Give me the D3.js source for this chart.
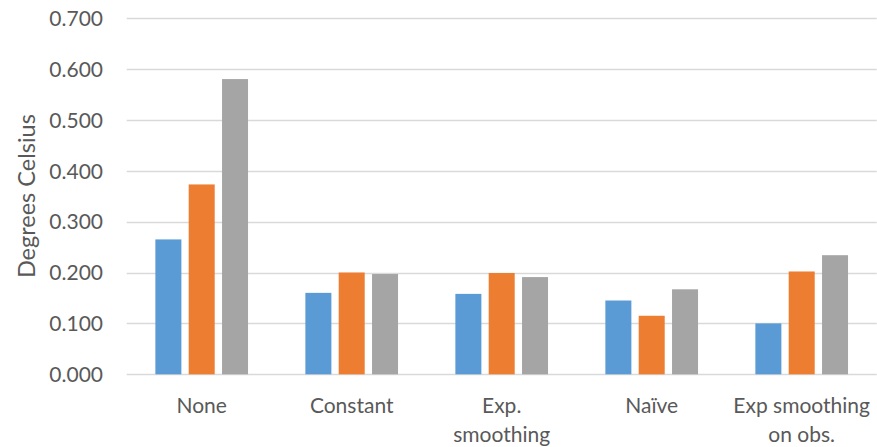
<!DOCTYPE html>
<html>
<head>
<meta charset="utf-8">
<script src="https://cdn.jsdelivr.net/npm/d3@7"></script>
<style>
  html, body { margin: 0; padding: 0; background: #fff; }
  svg text { font-family: Lato, "Noto Sans", sans-serif; fill: #595959; }
</style>
</head>
<body>
<svg id="chart" width="877" height="447"></svg>
<script>
// Error in degrees Celsius by correction method, three series per method
const categories = ["None", "Constant", "Exp. smoothing", "Naïve", "Exp smoothing on obs."];
const categoryLines = [["None"], ["Constant"], ["Exp.", "smoothing"], ["Naïve"], ["Exp smoothing", "on obs."]];
const seriesNames = ["Series 1", "Series 2", "Series 3"];
const series1 = [0.265, 0.160, 0.158, 0.145, 0.100];
const series2 = [0.373, 0.200, 0.199, 0.115, 0.202];
const series3 = [0.580, 0.197, 0.191, 0.167, 0.234];
const seriesColors = ["#5B9BD5", "#ED7D31", "#A5A5A5"];
const yTicks = [0, 0.1, 0.2, 0.3, 0.4, 0.5, 0.6, 0.7];
const yTitle = "Degrees Celsius";

const svg = d3.select("#chart");
const plot = { left: 126.7, right: 876.7, top: 18, bottom: 374.3 };

const x0 = d3.scaleBand().domain(categories).range([plot.left, plot.right]).padding(0);
const x1 = d3.scaleBand().domain(seriesNames).range([0, x0.bandwidth()])
  .paddingInner(0.22).paddingOuter(0.86);
const y = d3.scaleLinear().domain([0, 0.7]).range([plot.bottom, plot.top]);

// Horizontal gridlines
svg.append("g").selectAll("line").data(yTicks).join("line")
  .attr("x1", plot.left).attr("x2", plot.right)
  .attr("y1", d => Math.round(y(d)) + 0.5).attr("y2", d => Math.round(y(d)) + 0.5)
  .attr("stroke", "#D9D9D9").attr("stroke-width", 1.3);

// Y axis labels
const yAxis = d3.axisLeft(y).tickValues(yTicks).tickFormat(d3.format(".3f")).tickSize(0).tickPadding(0);
const yg = svg.append("g").attr("transform", `translate(103,0)`).call(yAxis);
yg.select(".domain").remove();
yg.selectAll("text").attr("font-size", 21).attr("dy", "0.35em").style("font-family", null);

// Y axis title
svg.append("text")
  .attr("transform", `translate(35,${(plot.top + plot.bottom) / 2}) rotate(-90)`)
  .attr("text-anchor", "middle")
  .attr("font-size", 23.5)
  .text(yTitle);

// Bars
const rows = categories.map((c, i) => ({
  cat: c,
  vals: [series1[i], series2[i], series3[i]]
}));
const groups = svg.append("g").selectAll("g").data(rows).join("g")
  .attr("transform", d => `translate(${x0(d.cat)},0)`);
groups.selectAll("rect").data(d => d.vals.map((v, k) => ({ v, k })))
  .join("rect")
  .attr("x", d => x1(seriesNames[d.k]))
  .attr("width", x1.bandwidth())
  .attr("y", d => y(d.v))
  .attr("height", d => y(0) - y(d.v))
  .attr("fill", d => seriesColors[d.k]);

// Category labels
const labels = svg.append("g").selectAll("text").data(categories).join("text")
  .attr("x", d => x0(d) + x0.bandwidth() / 2)
  .attr("y", 413)
  .attr("text-anchor", "middle")
  .attr("font-size", 21);
labels.each(function(d, i) {
  const t = d3.select(this);
  categoryLines[i].forEach((line, j) => {
    t.append("tspan")
      .attr("x", x0(d) + x0.bandwidth() / 2)
      .attr("dy", j === 0 ? 0 : 29)
      .text(line);
  });
});
</script>
</body>
</html>
